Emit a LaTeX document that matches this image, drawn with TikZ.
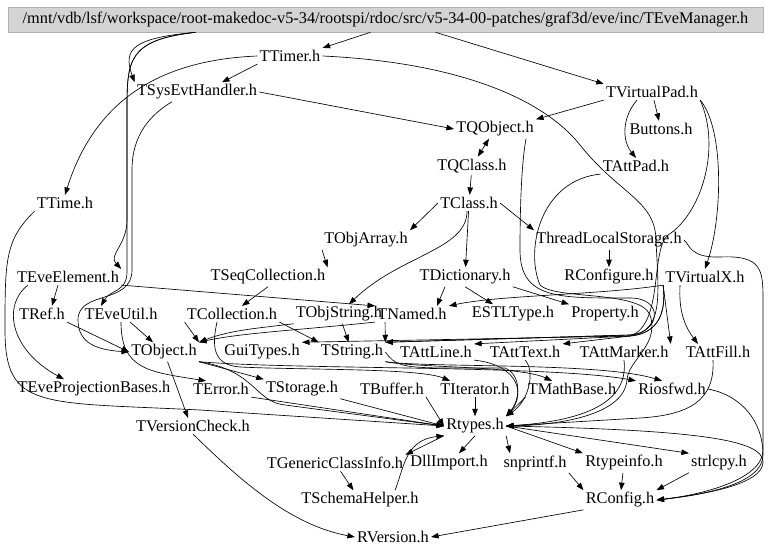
\documentclass[tikz,border=0pt]{standalone}
\usepackage{fontspec}
\setmainfont{Liberation Serif}
\usetikzlibrary{arrows.meta}

\tikzset{
  file/.style={inner sep=2pt, font=\fontsize{16.3}{18}\selectfont},
  topfile/.style={file, fill=black!17, draw=black!30, minimum width=755pt, minimum height=25pt},
}

\begin{document}
\begin{tikzpicture}[x=1pt, y=-1pt, ->, >={Triangle[length=7.5pt,width=5.5pt]}, line width=0.65pt]
\useasboundingbox (0,0) rectangle (768,556);

\node[topfile] (root) at (385.5,19.5) {/mnt/vdb/lsf/workspace/root-makedoc-v5-34/rootspi/rdoc/src/v5-34-00-patches/graf3d/eve/inc/TEveManager.h};

\node[file] (ttimer) at (290,56) {TTimer.h};
\node[file] (tsysevt) at (197,92) {TSysEvtHandler.h};
\node[file] (tvpad) at (652,92) {TVirtualPad.h};
\node[file] (tqobject) at (495,129) {TQObject.h};
\node[file] (buttons) at (661,129) {Buttons.h};
\node[file] (tqclass) at (472,166) {TQClass.h};
\node[file] (tattpad) at (636,166) {TAttPad.h};
\node[file] (ttime) at (65,203) {TTime.h};
\node[file] (tclass) at (469,203) {TClass.h};
\node[file] (tobjarr) at (366,240) {TObjArray.h};
\node[file] (tls) at (609,240) {ThreadLocalStorage.h};
\node[file] (teveel) at (68,277) {TEveElement.h};
\node[file] (tseqcol) at (268,277) {TSeqCollection.h};
\node[file] (tdict) at (465,277) {TDictionary.h};
\node[file] (rconfigure) at (609,277) {RConfigure.h};
\node[file] (tvx) at (705,277) {TVirtualX.h};
\node[file] (tref) at (42,314) {TRef.h};
\node[file] (teveutil) at (121,314) {TEveUtil.h};
\node[file] (tcoll) at (232,314) {TCollection.h};
\node[file] (tobjstr) at (339,314) {TObjString.h};
\node[file] (tnamed) at (412,314) {TNamed.h};
\node[file] (estl) at (513,314) {ESTLType.h};
\node[file] (property) at (605,314) {Property.h};
\node[file] (tobject) at (164,352) {TObject.h};
\node[file] (guitypes) at (262,352) {GuiTypes.h};
\node[file] (tstring) at (352,352) {TString.h};
\node[file] (tattline) at (436,352) {TAttLine.h};
\node[file] (tatttext) at (525,352) {TAttText.h};
\node[file] (tattmarker) at (624,352) {TAttMarker.h};
\node[file] (tattfill) at (718,352) {TAttFill.h};
\node[file] (tevepb) at (94,389) {TEveProjectionBases.h};
\node[file] (terror) at (221,389) {TError.h};
\node[file] (tstorage) at (302,389) {TStorage.h};
\node[file] (tbuffer) at (392,389) {TBuffer.h};
\node[file] (titer) at (475,389) {TIterator.h};
\node[file] (tmathbase) at (572,389) {TMathBase.h};
\node[file] (riosfwd) at (672,389) {Riosfwd.h};
\node[file] (tvcheck) at (193,426) {TVersionCheck.h};
\node[file] (rtypes) at (475,426) {Rtypes.h};
\node[file] (tgci) at (335,463) {TGenericClassInfo.h};
\node[file] (dllimport) at (449,463) {DllImport.h};
\node[file] (snprintf) at (535,463) {snprintf.h};
\node[file] (rtypeinfo) at (624,463) {Rtypeinfo.h};
\node[file] (strlcpy) at (719,463) {strlcpy.h};
\node[file] (tschema) at (360,500) {TSchemaHelper.h};
\node[file] (rconfig) at (620,500) {RConfig.h};
\node[file] (rversion) at (393,537) {RVersion.h};

% from the top file
\path ([xshift=-15pt]root.south) edge (ttimer.north east)
      ([xshift=50pt]root.south) edge (tvpad.north west);
\draw ([xshift=-190pt]root.south) .. controls (135,38) and (122,48) .. (tsysevt.north west);
\draw ([xshift=-190pt]root.south) .. controls (128,40) and (127,60) .. (127,110) -- (127,220) .. controls (127,245) and (108,255) .. (teveel.north east);
\draw ([xshift=-190pt]root.south) .. controls (128,40) and (127,60) .. (127,110) -- (127,272) .. controls (127,292) and (110,290) .. ([xshift=-20pt]teveutil.north);

% upper part
\path (ttimer.south west) edge ([xshift=25pt]tsysevt.north)
      (tsysevt.east) edge (tqobject.west)
      (tvpad.south west) edge (tqobject.north east)
      (tvpad) edge (buttons)
      ([xshift=-15pt]tvpad.south) edge[bend right=40] (tattpad.north)
      (tqobject) edge[<->] (tqclass)
      (tqclass) edge (tclass)
      (tclass.west) edge (tobjarr.north east)
      (tclass.east) edge (tls.north west)
      (tclass) edge (tdict)
      (tobjarr.south west) edge (tseqcol.north east)
      (tls) edge (rconfigure);
\draw (ttimer.west) .. controls (160,60) and (95,100) .. (ttime.north);
\draw (ttimer.east) .. controls (450,62) and (540,95) .. (580,145) .. controls (620,195) and (655,200) .. (656,240) .. controls (658,290) and (665,333) .. (630,335) -- (tstring.north east);
\draw ([xshift=-25pt]tsysevt.south) .. controls (150,115) and (132,135) .. (132,170) -- (132,270) .. controls (132,305) and (78,290) .. (78,320) .. controls (78,345) and (100,350) .. (tobject.west);
\draw (tvpad.south east) .. controls (725,130) and (722,220) .. (tvx.north);
\draw (tvpad.south east) .. controls (722,150) and (700,215) .. (668,235) .. controls (650,250) and (664,325) .. (630,336) -- (tattline.north east);
\draw ([xshift=-10pt]tqobject.south east) .. controls (522,160) and (520,200) .. (520,250) .. controls (520,300) and (560,298) .. (630,298) .. controls (665,298) and (660,333) .. (630,335) -- (tstring.north east);
\draw (tattpad.south west) .. controls (540,180) and (525,250) .. (540,285) .. controls (555,300) and (640,290) .. (650,315) .. controls (660,345) and (628,360) .. (627,380) .. controls (624,415) and (560,425) .. (rtypes.east);
\draw ([xshift=-2pt]tclass.south) .. controls (467,250) and (400,255) .. ([xshift=10pt]tobjstr.north);
\draw (tls.east) .. controls (690,245) and (690,258) .. (720,257) .. controls (762,255) and (763,270) .. (763,300) -- (763,450) .. controls (763,480) and (700,495) .. (rconfig.east);

% middle part
\path ([xshift=-10pt]teveel.south) edge ([xshift=10pt]tref.north)
      (teveel.south east) edge (tnamed.north west)
      (tseqcol.south) edge ([xshift=10pt]tcoll.north)
      ([xshift=-20pt]tdict.south) edge ([xshift=25pt]tnamed.north)
      (tdict.south) edge ([xshift=-20pt]estl.north)
      (tdict.south east) edge (property.north west)
      (tvx.south west) edge (tattmarker.north east)
      ([xshift=-25pt]tvx.south) edge[bend right=20] ([xshift=-20pt]tattfill.north)
      (tref.south east) edge (tobject.west)
      (teveutil) edge (tobject)
      (tcoll.south west) edge (tobject.north east)
      (tcoll.south east) edge (tstring.north west)
      (tobjstr) edge (tstring)
      ([xshift=10pt]tnamed.south west) edge (tstring.north east);
\draw ([xshift=-40pt]teveel.south) .. controls (2,305) and (10,350) .. ([xshift=-30pt]tevepb.north);
\draw (tvx.south west) .. controls (600,295) and (500,295) .. (tnamed.north east);
\draw (tvx.south west) .. controls (665,300) and (666,333) .. (630,336) -- (tatttext.north east);
\draw (tvx.south west) .. controls (665,300) and (666,333) .. (630,336) -- (guitypes.north east);
\draw (teveutil.south) .. controls (121,370) and (150,372) .. ([xshift=-15pt]terror.north);
\draw ([xshift=-15pt]tcoll.south) .. controls (212,345) and (212,365) .. (240,367) .. controls (300,370) and (420,368) .. ([xshift=-25pt]titer.north);
\draw (tobjstr.south west) .. controls (260,328) and (230,330) .. (tobject.north east);
\draw (tnamed.south west) .. controls (300,330) and (240,333) .. (tobject.north east);

% lower part
\path (tobject) edge ([xshift=-5pt]tvcheck.north)
      (tobject.south east) edge (tstorage.north west)
      (terror.south east) edge (rtypes.west)
      (tstorage.south east) edge (rtypes.west)
      (tbuffer.south east) edge (rtypes.west)
      (titer) edge (rtypes)
      (tmathbase.south west) edge (rtypes.north east)
      (rtypes.south west) edge (tgci.north east)
      (rtypes.south) edge ([xshift=10pt]dllimport.north)
      (rtypes.south east) edge ([xshift=-25pt]snprintf.north)
      (rtypes.east) edge (rtypeinfo.north west)
      (rtypes.east) edge (strlcpy.north west)
      (tgci) edge (tschema)
      (snprintf.south east) edge (rconfig.north west)
      (rtypeinfo) edge (rconfig)
      (strlcpy.south west) edge (rconfig.north east)
      (rconfig.south west) edge (rversion.east);
\draw (tobject.south east) .. controls (300,370) and (550,365) .. (riosfwd.north west);
\draw (tobject.south east) .. controls (255,370) and (255,402) .. (285,405) -- (rtypes.west);
\draw (tstring.south east) .. controls (420,368) and (520,366) .. ([xshift=-20pt]tmathbase.north);
\draw (tstring.south east) .. controls (430,368) and (600,362) .. ([xshift=-10pt]riosfwd.north);
\draw (tstring.east) .. controls (395,365) and (400,368) .. (450,368) -- (505,368) .. controls (522,375) and (520,400) .. (rtypes.north east);
\draw (tattline.south east) .. controls (520,365) and (525,395) .. (rtypes.north east);
\draw (tatttext.south) .. controls (535,370) and (530,400) .. (rtypes.north east);
\draw (tattmarker.south) .. controls (628,395) and (600,420) .. (rtypes.east);
\draw ([xshift=-5pt]tattfill.south) .. controls (715,400) and (690,415) .. (640,418) -- (rtypes.east);
\draw (ttime.south west) .. controls (5,240) and (5,260) .. (5,330) .. controls (5,410) and (40,402) .. (200,410) -- (rtypes.west);
\draw (rtypes.east) .. controls (700,430) and (763,440) .. (763,462) .. controls (763,485) and (700,495) .. (rconfig.east);
\draw (riosfwd.east) .. controls (740,395) and (763,420) .. (763,455) .. controls (763,485) and (700,495) .. (rconfig.east);
\draw ([xshift=35pt]tschema.north) .. controls (404,468) and (405,440) .. (rtypes.south west);
\draw (tvcheck.south) .. controls (240,480) and (290,525) .. (rversion.west);
\end{tikzpicture}
\end{document}
